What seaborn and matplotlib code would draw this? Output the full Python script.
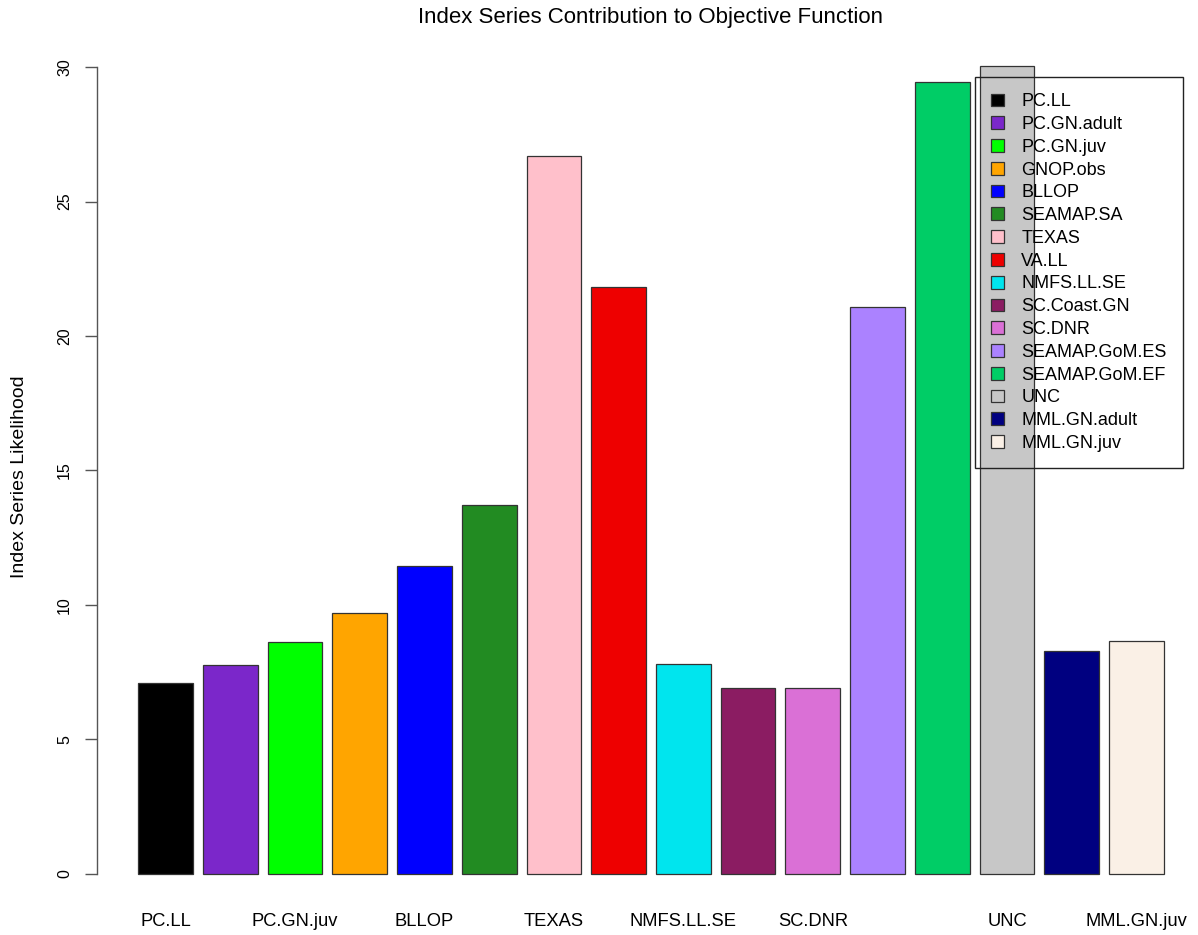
import matplotlib
matplotlib.use("Agg")
import matplotlib.pyplot as plt
import seaborn as sns
from matplotlib.patches import Patch

sns.set_style("white")
plt.rcParams['font.family'] = ['Liberation Sans', 'DejaVu Sans']
plt.rcParams['text.color'] = 'black'
plt.rcParams['xtick.labelcolor'] = 'black'
plt.rcParams['ytick.labelcolor'] = 'black'

series = ["PC.LL", "PC.GN.adult", "PC.GN.juv", "GNOP.obs", "BLLOP", "SEAMAP.SA",
          "TEXAS", "VA.LL", "NMFS.LL.SE", "SC.Coast.GN", "SC.DNR", "SEAMAP.GoM.ES",
          "SEAMAP.GoM.EF", "UNC", "MML.GN.adult", "MML.GN.juv"]
likelihood = [7.09, 7.76, 8.61, 9.69, 11.44, 13.70, 26.71, 21.81,
              7.81, 6.90, 6.90, 21.07, 29.45, 30.03, 8.29, 8.64]
colors = ["#000000", "#7B27CA", "#00FF00", "#FFA500", "#0000FF", "#228B22",
          "#FFC0CB", "#EE0000", "#00E5EE", "#8B1C62", "#DA70D6", "#AB82FF",
          "#00CD66", "#C7C7C7", "#000080", "#FAF0E6"]
shown_labels = ["PC.LL", "PC.GN.juv", "BLLOP", "TEXAS", "NMFS.LL.SE", "SC.DNR", "UNC", "MML.GN.juv"]

W, H = 1198, 935
fig = plt.figure(figsize=(W / 100, H / 100), dpi=100)
# axes spans pixel x 97..1198, y 34..906
ax = fig.add_axes([97 / W, 1 - 906 / H, (W - 97) / W, (906 - 34) / H])

sns.barplot(x=series, y=likelihood, hue=series, palette=colors, legend=False,
            saturation=1, width=0.846, edgecolor="#333333", linewidth=0.9, ax=ax)

ax.set_xlim(-1.058, 15.95)
ax.set_ylim(-1.2, 31.23)

for s in ["top", "right", "bottom"]:
    ax.spines[s].set_visible(False)
ax.spines["left"].set_bounds(0, 30)
ax.spines["left"].set_color("#555555")
ax.spines["left"].set_linewidth(1.0)

ax.set_yticks([0, 5, 10, 15, 20, 25, 30])
ax.tick_params(axis="y", direction="out", length=9, width=1.0, color="#555555",
               labelsize=11.5, pad=9, left=True)
for t in ax.get_yticklabels():
    t.set_rotation(90)
    t.set_va("center")

pos = [series.index(s) for s in shown_labels]
ax.set_xticks(pos)
ax.set_xticklabels(shown_labels, fontsize=13.2)
ax.tick_params(axis="x", length=0, pad=5)
ax.set_xlabel("")
ax.set_ylabel("")

fig.text(650 / W, 1 - 18 / H, "Index Series Contribution to Objective Function",
         ha="center", va="center", fontsize=16)
fig.text(20 / W, 1 - 477 / H, "Index Series Likelihood", rotation=90,
         ha="center", va="center", fontsize=14)

handles = [Patch(facecolor=c, edgecolor="#333333", linewidth=0.9) for c in colors]
leg = fig.legend(handles, series, loc="upper left",
                 bbox_to_anchor=(975 / W, 1 - 77 / H), borderaxespad=0,
                 fontsize=13, frameon=True, fancybox=False,
                 facecolor="none", edgecolor="#222222", handlelength=0.72,
                 handleheight=0.72, handletextpad=0.95, labelspacing=0.32,
                 borderpad=0.9)
leg.get_frame().set_linewidth(1.0)
leg.get_frame().set_alpha(None)

fig.savefig("out.png", dpi=100)
